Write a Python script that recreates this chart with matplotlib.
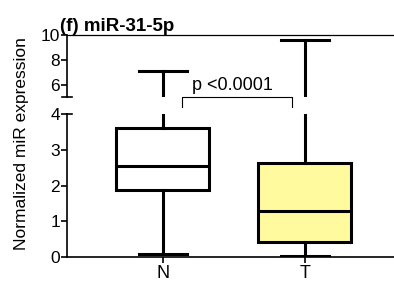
import matplotlib
matplotlib.use("Agg")
import matplotlib.pyplot as plt

plt.rcParams['font.family'] = ['Liberation Sans', 'DejaVu Sans']

groups = ["N", "T"]
whis_low = [0.08, 0.03]
q1 = [1.88, 0.42]
medians = [2.55, 1.30]
q3 = [3.62, 2.62]
whis_high = [7.15, 9.6]
face_colors = ["white", "#FFFA9E"]
p_text = "p <0.0001"

stats = []
for i, g in enumerate(groups):
    stats.append(dict(label=g, whislo=whis_low[i], q1=q1[i], med=medians[i],
                      q3=q3[i], whishi=whis_high[i], fliers=[]))

fig = plt.figure(figsize=(3.94, 2.84), dpi=100)
ax_top = fig.add_axes([0.170, 0.657, 0.829, 0.220])
ax_bot = fig.add_axes([0.170, 0.095, 0.829, 0.5035])

lw = 2.2
for ax in (ax_top, ax_bot):
    bp = ax.bxp(stats, positions=[0, 1], widths=0.655, capwidths=0.34,
                patch_artist=True, showfliers=False,
                boxprops=dict(linewidth=lw, edgecolor="black"),
                medianprops=dict(linewidth=lw, color="black"),
                whiskerprops=dict(linewidth=lw, color="black"),
                capprops=dict(linewidth=lw, color="black"))
    for patch, c in zip(bp["boxes"], face_colors):
        patch.set_facecolor(c)
    ax.set_xlim(-0.676, 1.627)
    ax.spines["right"].set_visible(False)
    ax.spines["left"].set_linewidth(1.2)
    ax.tick_params(axis="y", labelsize=12.5, length=4, width=1.2, pad=1)

# top segment
ax_top.set_ylim(5, 10)
ax_top.set_yticks([6, 8, 10])
ax_top.spines["bottom"].set_visible(False)
ax_top.spines["top"].set_linewidth(0.9)
ax_top.tick_params(axis="x", bottom=False, labelbottom=False)
ax_top.plot([-0.015, 0.015], [0, 0], transform=ax_top.transAxes,
            color="black", lw=1.2, clip_on=False)

# bottom segment
ax_bot.set_ylim(0, 4)
ax_bot.set_yticks([0, 1, 2, 3, 4])
ax_bot.spines["top"].set_visible(False)
ax_bot.spines["bottom"].set_linewidth(1.2)
ax_bot.set_xticks([0, 1])
ax_bot.set_xticklabels(groups)
ax_bot.tick_params(axis="x", labelsize=13, length=4, width=1.2, pad=2)
ax_bot.plot([0, 0.015], [1, 1], transform=ax_bot.transAxes,
            color="black", lw=1.2, clip_on=False)

# significance bracket
x1, x2 = 0.134, 0.908
ax_top.plot([x1, x1, x2, x2], [4.25, 5.02, 5.02, 4.25], color="black",
            lw=0.8, clip_on=False)
ax_top.text((x1 + x2) / 2 - 0.03, 5.25, p_text, ha="center", va="bottom",
            fontsize=13)

ax_top.set_title("(f) miR-31-5p", loc="left", fontsize=13.5, fontweight="bold",
                 pad=3, x=-0.02)
fig.text(0.055, 0.493, "Normalized miR expression", rotation=90,
         ha="center", va="center", fontsize=12.5)

fig.savefig("out.png", dpi=100)
